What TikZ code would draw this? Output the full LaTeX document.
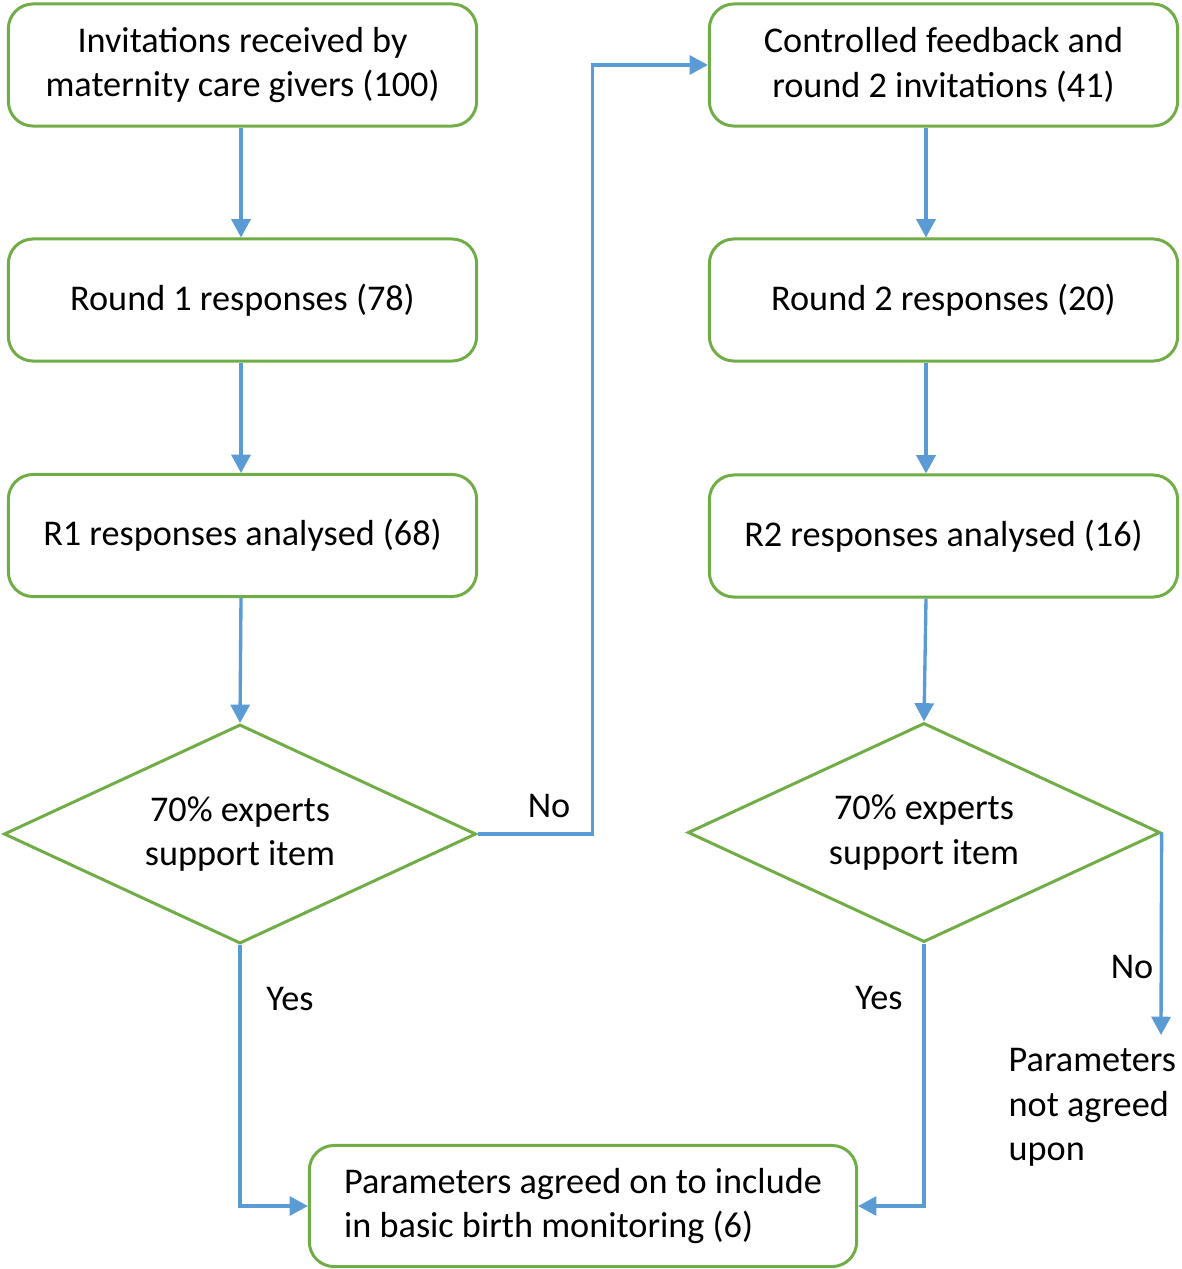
\documentclass[tikz,border=0pt]{standalone}
\usepackage{fontspec}
\setmainfont{Carlito}
\usetikzlibrary{shapes.geometric,arrows.meta}

\begin{document}
\begin{tikzpicture}[x=0.01cm, y=-0.01cm]
    \definecolor{borderColour}{HTML}{70AD47}
    \definecolor{arrowColour}{HTML}{5B9BD5}

    \tikzset{
        labelText/.style={font=\fontsize{10.3}{12.6}\selectfont},
        stepBox/.style={labelText, draw=borderColour, line width=0.85pt, rounded corners=7pt,
            minimum width=4.68cm, minimum height=1.22cm, align=center},
        decideBox/.style={labelText, diamond, draw=borderColour, line width=0.85pt, aspect=2.15,
            inner sep=0pt, minimum width=4.72cm, minimum height=2.19cm, align=center},
        flowArrow/.style={draw=arrowColour, line width=0.95pt, -{Triangle[length=5.2pt,width=5.4pt]}}
    }

    % Fix the page size
    \useasboundingbox (0,0) rectangle (1181,1269);

    % Round 1 column
    \node[stepBox] (invite) at (242.5,65) {Invitations received by\\maternity care givers (100)};
    \node[stepBox] (round1) at (242.5,300) {Round 1 responses (78)};
    \node[stepBox] (analysed1) at (242.5,535.5) {R1 responses analysed (68)};
    \node[decideBox] (decide1) at (240,834) {70\% experts\\support item};

    % Round 2 column
    \node[stepBox] (feedback) at (943.5,65) {Controlled feedback and\\round 2 invitations (41)};
    \node[stepBox] (round2) at (943.5,300) {Round 2 responses (20)};
    \node[stepBox] (analysed2) at (943.5,536) {R2 responses analysed (16)};
    \node[decideBox] (decide2) at (924,832.5) {70\% experts\\support item};

    % Outcomes
    \node[stepBox, minimum width=5.47cm, minimum height=1.21cm, align=left] (agreed) at (583,1206)
        {Parameters agreed on to include\\in basic birth monitoring (6)};
    \node[labelText, anchor=north west, align=left, inner sep=0pt] (notAgreed) at (1008,1048)
        {Parameters\\not agreed\\upon};
    \coordinate (notAgreedTip) at (1161,1035);

    % Arrow columns
    \coordinate (leftLine) at (241,0);
    \coordinate (rightLine) at (926,0);

    % Draw connectors
    \draw[flowArrow] (invite.south -| leftLine) -- (round1.north -| leftLine);
    \draw[flowArrow] (round1.south -| leftLine) -- (analysed1.north -| leftLine);
    \draw[flowArrow] (analysed1.south -| leftLine) -- (decide1.north);
    \draw[flowArrow] (decide1.east) -- ++(115,0) |- (feedback.west);
    \draw[flowArrow] (feedback.south -| rightLine) -- (round2.north -| rightLine);
    \draw[flowArrow] (round2.south -| rightLine) -- (analysed2.north -| rightLine);
    \draw[flowArrow] (analysed2.south -| rightLine) -- (decide2.north);
    \draw[flowArrow] (decide2.east) -- (notAgreedTip);
    \draw[flowArrow] (decide1.south) |- (agreed.west);
    \draw[flowArrow] (decide2.south) |- (agreed.east);

    % Branch labels
    \node[labelText] (noLeft) at (549,806) {No};
    \node[labelText] (yesLeft) at (290,999) {Yes};
    \node[labelText] (yesRight) at (879,998) {Yes};
    \node[labelText] (noRight) at (1132,967) {No};
\end{tikzpicture}
\end{document}
